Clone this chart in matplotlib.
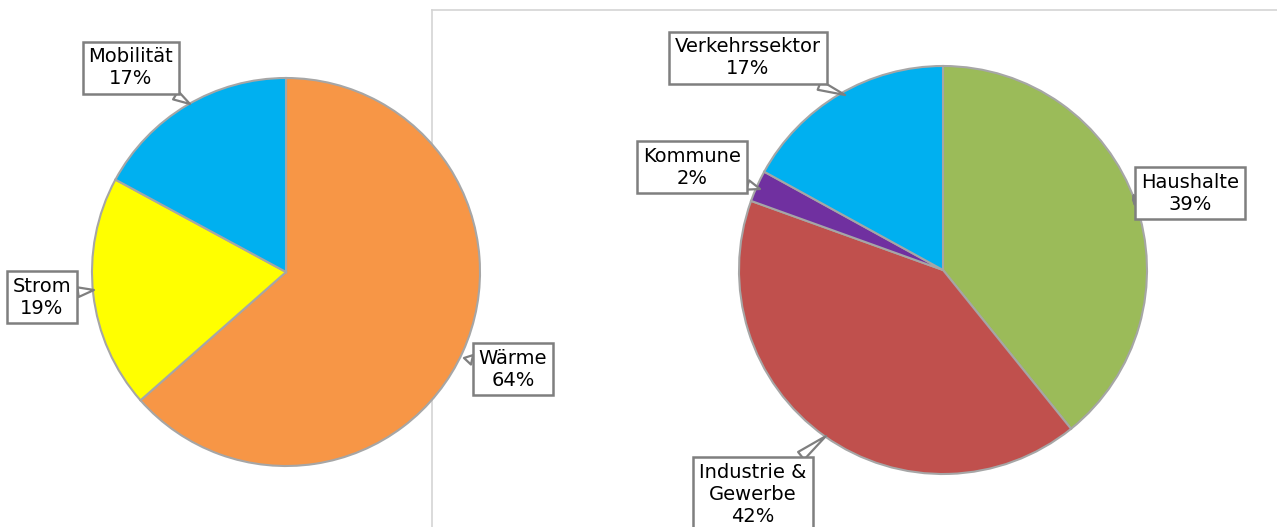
import matplotlib.pyplot as plt
from matplotlib.lines import Line2D

# left pie: energy use by type
left_labels = ["Wärme", "Strom", "Mobilität"]
left_values = [63.5, 19.4, 17.1]
left_pct = ["64%", "19%", "17%"]
left_colors = ["#F79646", "#FFFF00", "#00B0F0"]

# right pie: energy use by sector
right_labels = ["Haushalte", "Industrie &\nGewerbe", "Kommune", "Verkehrssektor"]
right_values = [39.2, 41.3, 2.5, 17.0]
right_pct = ["39%", "42%", "2%", "17%"]
right_colors = ["#9BBB59", "#C0504D", "#7030A0", "#00B0F0"]

W, H = 1277, 527
fig = plt.figure(figsize=(W / 100, H / 100), dpi=100)
ax = fig.add_axes([0, 0, 1, 1])


def Y(y):
    # image row -> data y
    return H - y


# frame of the right chart (drawn underneath the pies)
ax.add_line(Line2D([432, W], [Y(10), Y(10)], color="#d4d4d4", lw=1.2, zorder=0))
ax.add_line(Line2D([432, 432], [Y(10), 0], color="#d4d4d4", lw=1.2, zorder=0))

wedge_style = dict(edgecolor="#a6a6a6", linewidth=1.5)
ax.pie(left_values, colors=left_colors, startangle=90, counterclock=False,
       center=(286, Y(272)), radius=194, wedgeprops=wedge_style, frame=True)
ax.pie(right_values, colors=right_colors, startangle=90, counterclock=False,
       center=(943, Y(270)), radius=204, wedgeprops=wedge_style, frame=True)
ax.set_xlim(0, W)
ax.set_ylim(0, H)
ax.set_aspect("auto")
ax.axis("off")

box = dict(boxstyle="square,pad=0.3", fc="white", ec="#7f7f7f", lw=1.8)
arrow = dict(arrowstyle="wedge,tail_width=0.5,shrink_factor=0.5", fc="white",
             ec="#7f7f7f", lw=1.6, shrinkA=0, shrinkB=0)

# (text, box centre, pie-edge point) in image pixel coords
callouts = [
    (f"{left_labels[2]}\n{left_pct[2]}", (131, 68), (190, 104)),
    (f"{left_labels[1]}\n{left_pct[1]}", (42, 297), (94, 290)),
    (f"{left_labels[0]}\n{left_pct[0]}", (513, 369), (464, 358)),
    (f"{right_labels[3]}\n{right_pct[3]}", (748, 58), (845, 95)),
    (f"{right_labels[2]}\n{right_pct[2]}", (692, 167), (760, 189)),
    (f"{right_labels[0]}\n{right_pct[0]}", (1190, 193), (1133, 200)),
    (f"{right_labels[1]}\n{right_pct[1]}", (753, 494), (826, 436)),
]
for txt, (tx, ty), (px, py) in callouts:
    ax.annotate(txt, xy=(px, Y(py)), xytext=(tx, Y(ty)),
                ha="center", va="center", fontsize=14, color="black",
                linespacing=1.2, bbox=box, arrowprops=arrow,
                annotation_clip=False)

fig.savefig("out.png", dpi=100)
